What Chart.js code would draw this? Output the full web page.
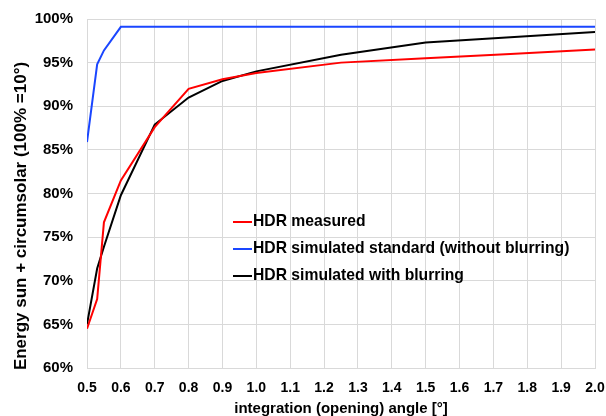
<!DOCTYPE html>
<html>
<head>
<meta charset="utf-8">
<script src="https://cdn.jsdelivr.net/npm/chart.js@4"></script>
<style>
  html, body { margin: 0; padding: 0; background: #fff; }
  #wrap { width: 606px; height: 416px; }
</style>
</head>
<body>
<div id="wrap"><canvas id="grafico"></canvas></div>
<script>
// opening angle [°]
const angulos = [0.5, 0.53, 0.55, 0.6, 0.7, 0.8, 0.9, 1.0, 1.25, 1.5, 1.75, 2.0];
// energy fraction [%]
const medido    = [64.5, 67.9, 76.7, 81.5, 87.6, 92.0, 93.1, 93.8, 95.0, 95.5, 96.0, 96.5];
const padrao    = [85.9, 94.8, 96.4, 99.1, 99.1, 99.1, 99.1, 99.1, 99.1, 99.1, 99.1, 99.1];
const comBlur   = [65.0, 71.4, 73.9, 79.8, 87.9, 91.0, 92.9, 94.0, 95.9, 97.3, 97.9, 98.5];
const yTicks = [60, 65, 70, 75, 80, 85, 90, 95, 100];

const nomes = ['HDR measured', 'HDR simulated standard (without blurring)', 'HDR simulated with blurring'];
const cores = ['#ff0000', '#1a46ff', '#000000'];
const tituloY = 'Energy sun + circumsolar (100% =10°)';

function pontos(valores) {
  return angulos.map((a, i) => ({ x: a, y: valores[i] }));
}

const familia = 'Liberation Sans, Arial, sans-serif';

// legenda dentro do grafico + titulo do eixo y
const extras = {
  id: 'extras',
  afterDraw(chart) {
    const ctx = chart.ctx;
    ctx.save();
    ctx.font = 'bold 15.7px ' + familia;
    ctx.textBaseline = 'middle';
    const linhas = [222, 249, 276];
    nomes.forEach((nome, i) => {
      ctx.strokeStyle = cores[i];
      ctx.lineWidth = 2;
      ctx.beginPath();
      ctx.moveTo(233, linhas[i]);
      ctx.lineTo(252, linhas[i]);
      ctx.stroke();
      ctx.fillStyle = '#000';
      ctx.fillText(nome, 253, linhas[i]);
    });
    ctx.translate(21, 216);
    ctx.rotate(-Math.PI / 2);
    ctx.font = 'bold 17px ' + familia;
    ctx.textAlign = 'center';
    ctx.fillText(tituloY, 0, 0);
    ctx.restore();
  }
};

// tira o espaco extra que o chart.js reserva para os rotulos
function semPadding(s) {
  s.paddingTop = 0; s.paddingBottom = 0; s.paddingLeft = 0; s.paddingRight = 0;
}

new Chart(document.getElementById('grafico'), {
  type: 'scatter',
  data: {
    datasets: [
      { label: nomes[0], data: pontos(medido), borderColor: cores[0], showLine: true, borderWidth: 2, pointRadius: 0, tension: 0 },
      { label: nomes[1], data: pontos(padrao), borderColor: cores[1], showLine: true, borderWidth: 2, pointRadius: 0, tension: 0 },
      { label: nomes[2], data: pontos(comBlur), borderColor: cores[2], showLine: true, borderWidth: 2, pointRadius: 0, tension: 0 }
    ]
  },
  plugins: [extras],
  options: {
    responsive: true,
    maintainAspectRatio: false,
    animation: false,
    layout: { padding: { top: 19, right: 11, left: 0, bottom: 0 } },
    plugins: { legend: { display: false }, tooltip: { enabled: false } },
    scales: {
      x: {
        type: 'linear',
        min: 0.5, max: 2.0,
        ticks: { stepSize: 0.1, color: '#000', font: { family: familia, size: 14, weight: 'bold' }, padding: 12,
          callback: v => v.toFixed(1) },
        grid: { color: '#d9d9d9', lineWidth: 1, drawTicks: false },
        border: { color: '#d9d9d9' },
        title: { display: true, text: 'integration (opening) angle [°]', color: '#000',
          font: { family: familia, size: 15, weight: 'bold' }, padding: { top: 0, bottom: -2 } },
        afterFit: s => { s.height = 48; semPadding(s); }
      },
      y: {
        min: 60, max: 100,
        afterBuildTicks: s => { s.ticks = yTicks.map(v => ({ value: v })); },
        ticks: { color: '#000', font: { family: familia, size: 15, weight: 'bold' }, padding: 14, callback: v => v + '%' },
        grid: { color: '#d9d9d9', lineWidth: 1, drawTicks: false },
        border: { color: '#d9d9d9' },
        afterFit: s => { s.width = 87; semPadding(s); }
      }
    }
  }
});
</script>
</body>
</html>
